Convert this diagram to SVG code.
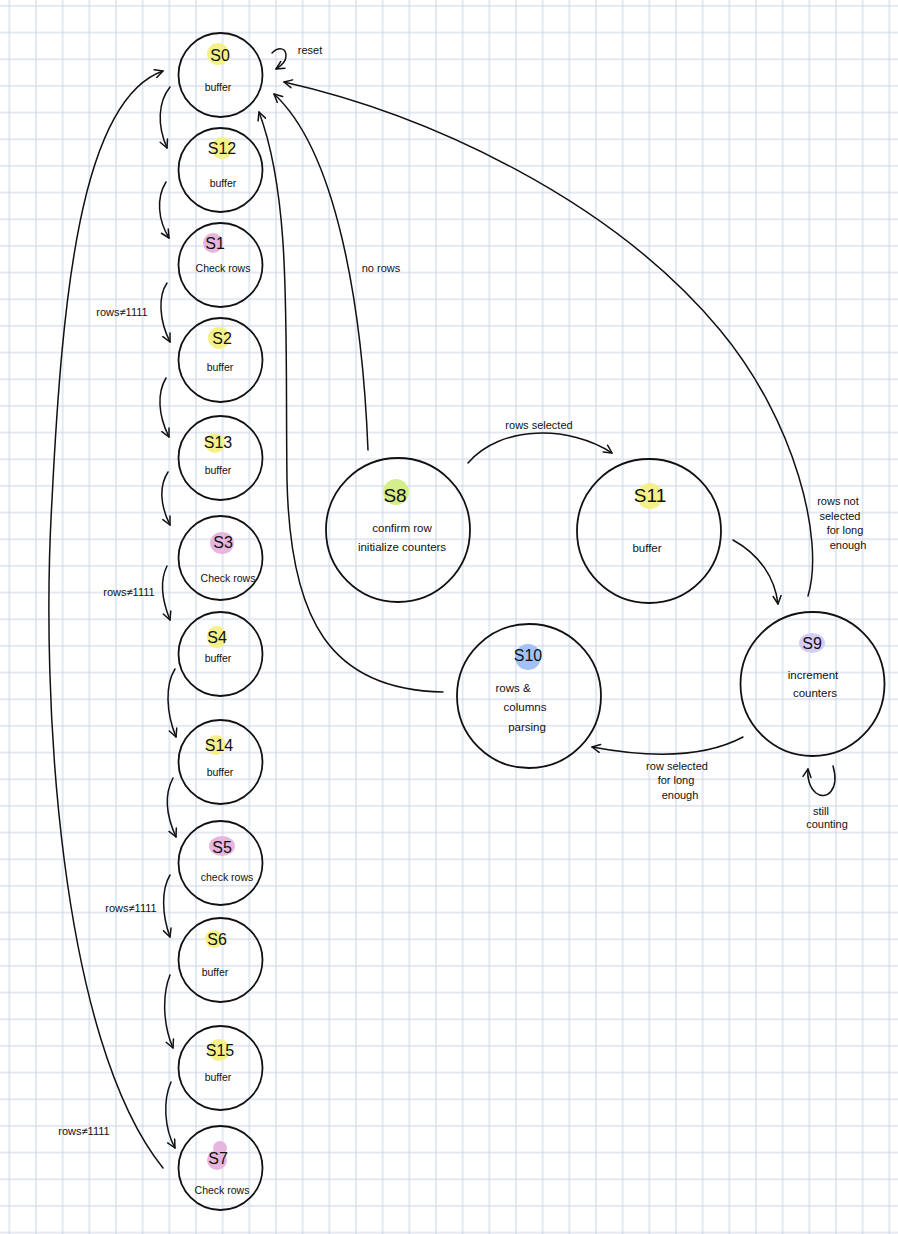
<svg xmlns="http://www.w3.org/2000/svg" width="898" height="1234" viewBox="0 0 898 1234">
<style>
.st{fill:none;stroke:#111;stroke-width:1.8}
.cn{fill:none;stroke:#111;stroke-width:1.5;stroke-linecap:round}
.lb{font-family:"Liberation Sans",Arial,sans-serif;font-size:16px;fill:#111;text-anchor:middle}
.lbb{font-family:"Liberation Sans",Arial,sans-serif;font-size:19px;fill:#111;text-anchor:middle}
.tx{font-family:"Liberation Sans",Arial,sans-serif;font-size:10.5px;fill:#111;text-anchor:middle}
.tr{font-family:"Liberation Sans",Arial,sans-serif;font-size:11.5px;fill:#111;text-anchor:middle}
.el{font-family:"Liberation Sans",Arial,sans-serif;font-size:11px;fill:#111;text-anchor:middle}
.y{fill:#f5f18a}.p{fill:#e6b6de}.g{fill:#d5ee8c}.b{fill:#a2c2f6}.v{fill:#d5cdf6}
</style>
<defs>
<pattern id="grid" patternUnits="userSpaceOnUse" x="8.3" y="4.9" width="26.667" height="26.667">
<path d="M1,0 V26.667 M0,1 H26.667" stroke="#c9d2e7" stroke-width="1" fill="none"/>
</pattern>
<marker id="ah" viewBox="0 0 10 10" refX="9" refY="5" markerWidth="10" markerHeight="10" markerUnits="userSpaceOnUse" orient="auto">
<path d="M1,1 L9,5 L1,9" fill="none" stroke="#111" stroke-width="1.5" stroke-linecap="round" stroke-linejoin="round"/>
</marker>
</defs>
<rect width="898" height="1234" fill="#fff"/>
<rect width="898" height="1234" fill="url(#grid)"/>

<g id="connectors">
<path class="cn" d="M170,87 C158,102 157,125 167,148" marker-end="url(#ah)"/>
<path class="cn" d="M166,182 C156,198 158,220 169,238" marker-end="url(#ah)"/>
<path class="cn" d="M167,283 C158,296 159,320 170,342" marker-end="url(#ah)"/>
<path class="cn" d="M166,378 C157,393 158,415 169,437" marker-end="url(#ah)"/>
<path class="cn" d="M168,472 C159,486 160,505 170,525" marker-end="url(#ah)"/>
<path class="cn" d="M167,566 C160,580 162,600 170,620" marker-end="url(#ah)"/>
<path class="cn" d="M175,669 C165,685 166,712 176,737" marker-end="url(#ah)"/>
<path class="cn" d="M173,778 C164,795 166,815 176,837" marker-end="url(#ah)"/>
<path class="cn" d="M170,875 C161,890 162,915 170,937" marker-end="url(#ah)"/>
<path class="cn" d="M170,975 C162,995 163,1025 173,1048" marker-end="url(#ah)"/>
<path class="cn" d="M171,1082 C163,1100 164,1128 175,1148" marker-end="url(#ah)"/>
<path class="cn" d="M163,1168 C60,1040 40,700 52,500 C62,300 80,100 163,71" marker-end="url(#ah)"/>
<path class="cn" d="M272,53 C278,47 286,47 286,56 C286,62 281,66 276,69" marker-end="url(#ah)"/>
<path class="cn" d="M808,596 C825,540 795,420 720,330 C612,200 430,115 284,82" marker-end="url(#ah)"/>
<path class="cn" d="M368,450 C362,300 335,150 274,94" marker-end="url(#ah)"/>
<path class="cn" d="M443,692 C330,690 290,620 287,480 C285,330 292,200 259,112" marker-end="url(#ah)"/>
<path class="cn" d="M468,463 C500,425 570,425 612,453" marker-end="url(#ah)"/>
<path class="cn" d="M733,540 C760,555 775,578 778,604" marker-end="url(#ah)"/>
<path class="cn" d="M743,737 C700,760 640,756 592,747" marker-end="url(#ah)"/>
<path class="cn" d="M833,766 C840,790 826,801 816,793 C809,787 807,777 808,769" marker-end="url(#ah)"/>
<text class="el" x="310" y="54">reset</text>
<text class="el" x="122" y="316">rows≠1111</text>
<text class="el" x="129" y="596">rows≠1111</text>
<text class="el" x="131" y="912">rows≠1111</text>
<text class="el" x="84" y="1135">rows≠1111</text>
<text class="el" x="381" y="272">no  rows</text>
<text class="el" x="539" y="429">rows selected</text>
<text class="el" x="838" y="505">rows not</text>
<text class="el" x="840" y="520">selected</text>
<text class="el" x="845" y="534">for long</text>
<text class="el" x="848" y="549">enough</text>
<text class="el" x="677" y="770">row selected</text>
<text class="el" x="676" y="784">for long</text>
<text class="el" x="680" y="799">enough</text>
<text class="el" x="821" y="815">still</text>
<text class="el" x="827" y="828">counting</text>
</g>

<g id="S0"><circle class="st" cx="220.5" cy="75" r="42"/><circle class="y" cx="218" cy="54" r="11"/><text class="lb" x="220" y="61">S0</text><text class="tx" x="218" y="91">buffer</text></g>
<g id="S12"><circle class="st" cx="220.5" cy="170" r="42"/><circle class="y" cx="222" cy="148" r="11"/><text class="lb" x="222" y="154">S12</text><text class="tx" x="223" y="187">buffer</text></g>
<g id="S1"><circle class="st" cx="220.5" cy="265" r="42"/><circle class="p" cx="213" cy="243" r="10"/><text class="lb" x="215" y="249">S1</text><text class="tx" x="223" y="272">Check rows</text></g>
<g id="S2"><circle class="st" cx="220.5" cy="360" r="42"/><circle class="y" cx="219" cy="338" r="11"/><text class="lb" x="222" y="344">S2</text><text class="tx" x="220" y="371">buffer</text></g>
<g id="S13"><circle class="st" cx="220.5" cy="458" r="42"/><circle class="y" cx="215" cy="443" r="10"/><text class="lb" x="218" y="448">S13</text><text class="tx" x="218" y="474">buffer</text></g>
<g id="S3"><circle class="st" cx="220.5" cy="558" r="42"/><ellipse class="p" cx="222" cy="543" rx="12" ry="11"/><text class="lb" x="223" y="548">S3</text><text class="tx" x="228" y="582">Check rows</text></g>
<g id="S4"><circle class="st" cx="220.5" cy="654" r="42"/><ellipse class="y" cx="217" cy="637" rx="10" ry="11"/><text class="lb" x="217" y="643">S4</text><text class="tx" x="218" y="662">buffer</text></g>
<g id="S14"><circle class="st" cx="220.5" cy="762" r="42"/><circle class="y" cx="216" cy="745" r="10"/><text class="lb" x="219" y="751">S14</text><text class="tx" x="220" y="776">buffer</text></g>
<g id="S5"><circle class="st" cx="220.5" cy="863" r="42"/><ellipse class="p" cx="222" cy="846" rx="13" ry="10"/><text class="lb" x="222" y="853">S5</text><text class="tx" x="227" y="881">check rows</text></g>
<g id="S6"><circle class="st" cx="220.5" cy="960" r="42"/><circle class="y" cx="214" cy="939" r="9"/><text class="lb" x="217" y="945">S6</text><text class="tx" x="215" y="976">buffer</text></g>
<g id="S15"><circle class="st" cx="220.5" cy="1068" r="42"/><circle class="y" cx="219" cy="1050" r="11"/><text class="lb" x="220" y="1056">S15</text><text class="tx" x="218" y="1081">buffer</text></g>
<g id="S7"><circle class="st" cx="220.5" cy="1168" r="42"/><circle class="p" cx="220" cy="1148" r="7"/><circle class="p" cx="217" cy="1160" r="10"/><text class="lb" x="218" y="1164">S7</text><text class="tx" x="222" y="1194">Check rows</text></g>

<g id="S8"><circle class="st" cx="398" cy="530" r="72"/><circle class="g" cx="396" cy="492" r="13"/><text class="lbb" x="395" y="502">S8</text><text class="tr" x="402" y="532">confirm row</text><text class="tr" x="402" y="551">initialize counters</text></g>
<g id="S11"><circle class="st" cx="649" cy="531" r="72"/><circle class="y" cx="650" cy="496" r="13"/><text class="lbb" x="650" y="502">S11</text><text class="tr" x="647" y="552">buffer</text></g>
<g id="S9"><circle class="st" cx="812.5" cy="684" r="72"/><ellipse class="v" cx="812" cy="643" rx="13" ry="10"/><text class="lb" x="812" y="649">S9</text><text class="tr" x="813" y="679">increment</text><text class="tr" x="815" y="697">counters</text></g>
<g id="S10"><circle class="st" cx="529" cy="696" r="72"/><circle class="b" cx="528" cy="657" r="13"/><text class="lb" x="528" y="661">S10</text><text class="tr" x="513" y="692">rows &amp;</text><text class="tr" x="525" y="711">columns</text><text class="tr" x="527" y="731">parsing</text></g>
</svg>
